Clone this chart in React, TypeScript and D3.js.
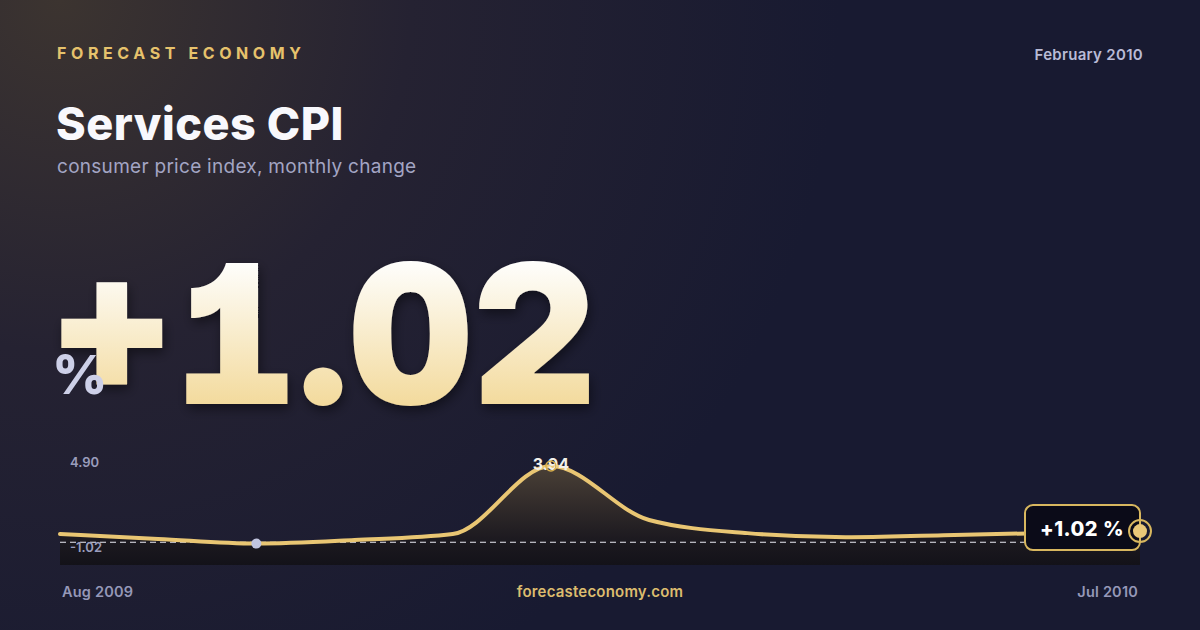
import React from 'react';
import * as d3 from 'd3';

// Services CPI, monthly change (%), Aug 2009 .. Jul 2010
const months = ['Aug 2009', 'Sep 2009', 'Oct 2009', 'Nov 2009', 'Dec 2009', 'Jan 2010',
  'Feb 2010', 'Mar 2010', 'Apr 2010', 'May 2010', 'Jun 2010', 'Jul 2010'];
const values = [0.89, 0.67, 0.46, 0.62, 0.89, 3.94, 1.52, 0.93, 0.75, 0.84, 0.93, 1.02];
const yDomain: [number, number] = [-0.5, 4.3];
const refValue = 0.52;
const rangeLabels = ['4.90', '-1.02'];
const headline = '+1.02';
const endLabel = '+1.02 %';

const W = 1200;
const H = 630;
const chart = { left: 60, right: 1140, top: 458, bottom: 565 };
const FONT = 'Inter, "Noto Sans", sans-serif';

const App: React.FC = () => {
  const x = d3.scalePoint<string>().domain(months).range([chart.left, chart.right]);
  const y = d3.scaleLinear().domain(yDomain).range([chart.bottom, chart.top]);

  const line = d3.line<number>()
    .x((_, i) => x(months[i])!)
    .y(d => y(d))
    .curve(d3.curveMonotoneX);

  const area = d3.area<number>()
    .x((_, i) => x(months[i])!)
    .y0(chart.bottom)
    .y1(d => y(d))
    .curve(d3.curveMonotoneX);

  const maxIdx = d3.maxIndex(values);
  const minIdx = d3.minIndex(values);
  const lastIdx = values.length - 1;
  const lastX = x(months[lastIdx])!;
  const lastY = y(values[lastIdx]);

  return (
    <svg width={W} height={H} viewBox={`0 0 ${W} ${H}`}
      style={{ position: 'absolute', left: 0, top: 0, display: 'block' }}>
      <defs>
        <radialGradient id="glow" cx="60" cy="0" r="780" gradientUnits="userSpaceOnUse">
          <stop offset="0" stopColor="#3c3430" />
          <stop offset="0.45" stopColor="#252232" />
          <stop offset="1" stopColor="#181a31" />
        </radialGradient>
        <linearGradient id="numFill" x1="0" y1="262" x2="0" y2="406" gradientUnits="userSpaceOnUse">
          <stop offset="0" stopColor="#fefefc" />
          <stop offset="1" stopColor="#f3da9c" />
        </linearGradient>
        <linearGradient id="areaFill" x1="0" y1={chart.top} x2="0" y2={chart.bottom} gradientUnits="userSpaceOnUse">
          <stop offset="0" stopColor="#4f4439" />
          <stop offset="0.75" stopColor="#1d1a20" />
          <stop offset="1" stopColor="#131219" />
        </linearGradient>
        <filter id="numShadow" x="-10%" y="-10%" width="120%" height="130%">
          <feDropShadow dx="2" dy="5" stdDeviation="6" floodColor="#000" floodOpacity="0.45" />
        </filter>
      </defs>

      <rect width={W} height={H} fill="url(#glow)" />

      {/* header */}
      <text x={57} y={59} fill="#e6c26c" fontFamily={FONT} fontSize={16} fontWeight={700}
        letterSpacing={4.6}>FORECAST ECONOMY</text>
      <text x={1143} y={60} textAnchor="end" fill="#b9bbd6" fontFamily={FONT} fontSize={15}
        fontWeight={600} letterSpacing={0.3}>February 2010</text>
      <text x={56} y={140} fill="#f8f8fc" fontFamily={FONT} fontSize={45} fontWeight={800}
        letterSpacing={0.5}>Services CPI</text>
      <text x={57} y={173} fill="#a3a5c4" fontFamily={FONT} fontSize={19}
        fontWeight={400} letterSpacing={0.28}>consumer price index, monthly change</text>

      {/* headline number */}
      <text x={50} y={404} fill="url(#numFill)" fontFamily={FONT} fontSize={194} fontWeight={900}
        textLength={546} lengthAdjust="spacingAndGlyphs" filter="url(#numShadow)"
        style={{ fontFeatureSettings: '"cv01", "tnum"' }}>{headline}</text>
      <text x={52} y={394} fill="#cdd0e8" fontFamily={FONT} fontSize={54}
        fontWeight={800}>%</text>

      {/* chart */}
      <path d={area(values)!} fill="url(#areaFill)" />
      <line x1={chart.left} x2={chart.right} y1={y(refValue)} y2={y(refValue)}
        stroke="#e9e9f2" strokeWidth={1.2} strokeDasharray="6 4" />
      <path d={line(values)!} fill="none" stroke="#e9c673" strokeWidth={4}
        strokeLinejoin="round" strokeLinecap="round" />

      <text x={70} y={467} fill="#9a9dbc" fontFamily={FONT} fontSize={13} fontWeight={600}>
        {rangeLabels[0]}</text>
      <text x={70} y={552} fill="#9a9dbc" fontFamily={FONT} fontSize={13} fontWeight={600}>
        {rangeLabels[1]}</text>

      <circle cx={x(months[minIdx])} cy={y(values[minIdx])} r={5} fill="#c1c5df" />

      <text x={x(months[maxIdx])} y={470} textAnchor="middle" fill="#f2f0ea" fontFamily={FONT}
        fontSize={16} fontWeight={700}>{values[maxIdx].toFixed(2)}</text>
      <circle cx={x(months[maxIdx])} cy={y(values[maxIdx])} r={5} fill="none"
        stroke="#d9b04c" strokeWidth={1.5} />

      <rect x={lastX - 115} y={lastY - 26} width={115} height={45} rx={8} fill="#0b0b18"
        stroke="#d8b75f" strokeWidth={2} />
      <text x={lastX - 58} y={lastY + 5} textAnchor="middle" fill="#ffffff" fontFamily={FONT}
        fontSize={20} fontWeight={800} letterSpacing={0.5}>{endLabel}</text>
      <circle cx={lastX} cy={lastY} r={11} fill="none" stroke="#d8b75f" strokeWidth={2} />
      <circle cx={lastX} cy={lastY} r={7} fill="#e9c878" />

      {/* footer */}
      <text x={62} y={597} fill="#9598b8" fontFamily={FONT} fontSize={14.5} fontWeight={600}
        letterSpacing={0.2}>{months[0]}</text>
      <text x={1138} y={597} textAnchor="end" fill="#9598b8" fontFamily={FONT} fontSize={14.5}
        fontWeight={600} letterSpacing={0.2}>{months[lastIdx]}</text>
      <text x={600} y={597} textAnchor="middle" fill="#dcbc6e" fontFamily={FONT} fontSize={15}
        fontWeight={600} letterSpacing={0.2}>forecasteconomy.com</text>
    </svg>
  );
};

export default App;
